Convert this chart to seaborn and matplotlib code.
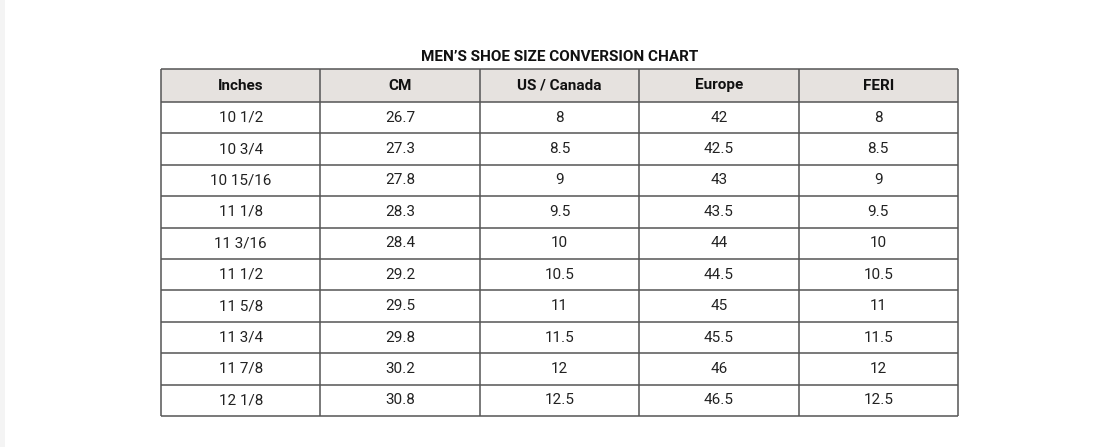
import matplotlib
matplotlib.use("Agg")
import matplotlib.pyplot as plt
import seaborn as sns

sns.set_style("white")
plt.rcParams["font.family"] = ["Roboto", "DejaVu Sans"]

title = "MEN\u2019S SHOE SIZE CONVERSION CHART"
columns = ["Inches", "CM", "US / Canada", "Europe", "FERI"]
inches = ["10 1/2", "10 3/4", "10 15/16", "11 1/8", "11 3/16", "11 1/2", "11 5/8", "11 3/4", "11 7/8", "12 1/8"]
cm = ["26.7", "27.3", "27.8", "28.3", "28.4", "29.2", "29.5", "29.8", "30.2", "30.8"]
us_canada = ["8", "8.5", "9", "9.5", "10", "10.5", "11", "11.5", "12", "12.5"]
europe = ["42", "42.5", "43", "43.5", "44", "44.5", "45", "45.5", "46", "46.5"]
feri = ["8", "8.5", "9", "9.5", "10", "10.5", "11", "11.5", "12", "12.5"]

rows = list(zip(inches, cm, us_canada, europe, feri))

fig = plt.figure(figsize=(10.97, 4.47), dpi=100)
ax = fig.add_axes([0, 0, 1, 1])
ax.set_xlim(0, 1097)
ax.set_ylim(447, 0)
ax.axis("off")

# light strip on the left edge
ax.add_patch(plt.Rectangle((0, 0), 5, 447, color="#f4f4f4", lw=0))

x0, x1 = 161, 958
y_top, header_h, row_h = 69, 33, 31.4
col_w = (x1 - x0) / len(columns)
y_bot = y_top + header_h + row_h * len(rows)
line_col = "#555555"

ax.text((x0 + x1) / 2, 57, title, ha="center", va="center", fontsize=11, fontweight="bold", color="#111111")

ax.add_patch(plt.Rectangle((x0, y_top), x1 - x0, header_h, facecolor="#e6e2df", edgecolor="none"))
for j, c in enumerate(columns):
    ax.text(x0 + col_w * (j + 0.5), y_top + header_h / 2, c, ha="center", va="center",
            fontsize=11, fontweight="bold", color="#111111")

for i, r in enumerate(rows):
    yc = y_top + header_h + row_h * (i + 0.5)
    for j, v in enumerate(r):
        ax.text(x0 + col_w * (j + 0.5), yc, v, ha="center", va="center", fontsize=11, color="#222222")

# grid lines
ax.hlines([y_top, y_top + header_h] + [y_top + header_h + row_h * (i + 1) for i in range(len(rows))],
          x0, x1, color=line_col, lw=1.1)
ax.vlines([x0 + col_w * j for j in range(len(columns) + 1)], y_top, y_bot, color=line_col, lw=1.1)

fig.savefig("out.png", dpi=100)
